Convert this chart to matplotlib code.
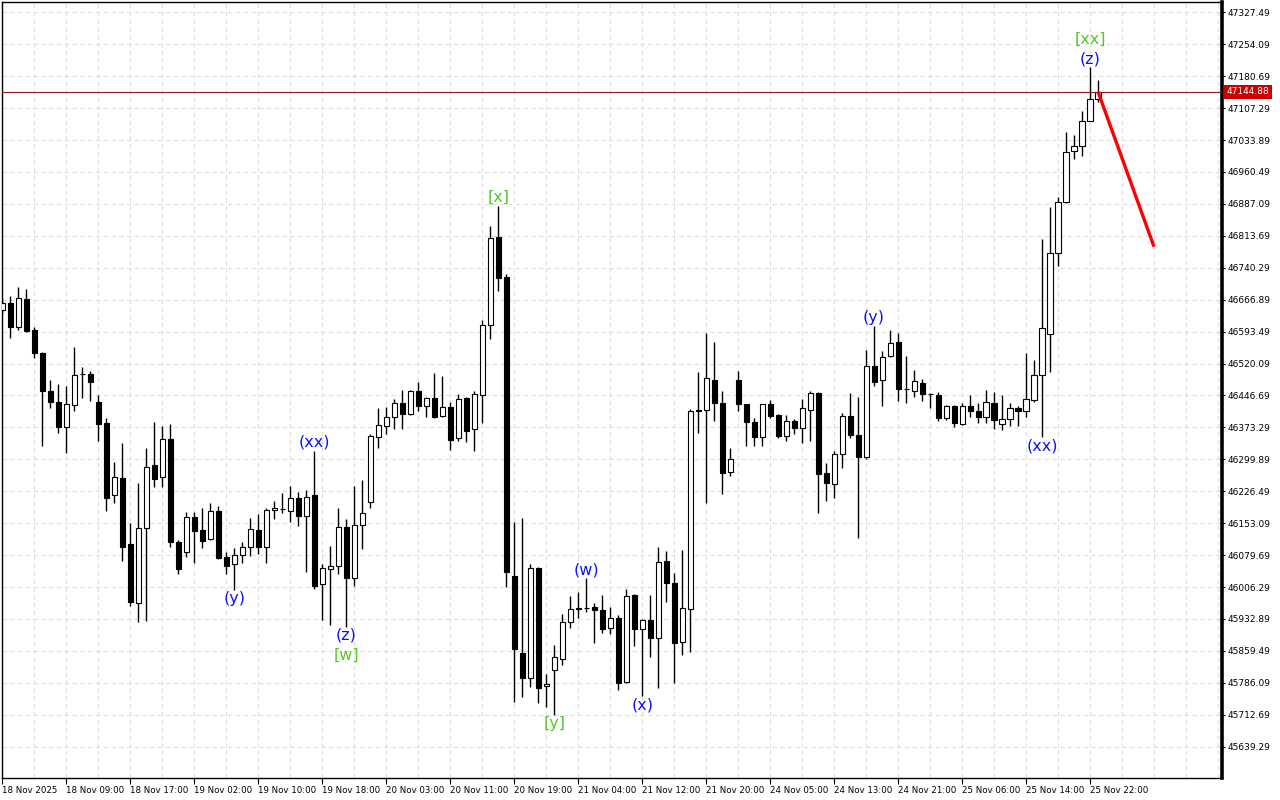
import numpy as np
import matplotlib.pyplot as plt
from matplotlib.ticker import FixedLocator, MultipleLocator
from matplotlib.transforms import blended_transform_factory

# hourly candles (price units)
opens = [46643.2, 46658.6, 46604.8, 46667.8, 46596.5, 46543.6, 46456.3, 46431.0, 46373.5, 46424.1,
         46495.4, 46495.4, 46431.0, 46382.7, 46217.2, 46256.3, 46104.6, 45968.9, 46141.3, 46286.2,
         46258.6, 46345.9, 46109.1, 46087.5, 46166.6, 46137.4, 46116.1, 46180.4, 46074.7, 46058.6,
         46079.3, 46099.1, 46137.4, 46099.1, 46182.7, 46185.0, 46180.4, 46210.3, 46170.3, 46217.9,
         46012.6, 46047.1, 46054.7, 46143.6, 46026.4, 46148.3, 46201.1, 46350.6, 46377.6, 46396.5,
         46428.7, 46404.8, 46456.3, 46423.2, 46440.2, 46398.8, 46419.5, 46348.2, 46440.2, 46368.9,
         46447.1, 46608.0, 46810.3, 46718.3, 46031.7, 45854.0, 45796.5, 46049.4, 45778.1, 45814.9,
         45840.2, 45925.3, 45955.8, 45958.8, 45959.7, 45953.5, 45911.5, 45934.4, 45788.7, 45988.0,
         45909.2, 45930.5, 45888.5, 46066.2, 46016.3, 45879.3, 45955.1, 46410.3, 46413.3, 46482.3,
         46428.7, 46270.1, 46482.3, 46426.4, 46385.0, 46351.9, 46426.4, 46401.8, 46352.8, 46388.0,
         46371.2, 46412.6, 46451.7, 46267.8, 46242.5, 46311.4, 46398.8, 46355.8, 46305.9, 46513.7,
         46482.3, 46536.7, 46568.9, 46460.9, 46456.3, 46474.7, 46449.4, 46447.1, 46394.2, 46422.5,
         46381.1, 46422.5, 46411.0, 46396.5, 46428.7, 46380.4, 46391.9, 46417.9, 46410.3, 46436.3,
         46493.1, 46588.0, 46773.5, 46892.1, 47008.0, 47019.5, 47077.0, 47127.5]
highs = [46670.8, 46675.4, 46695.4, 46690.8, 46604.8, 46546.6, 46482.3, 46472.4, 46468.5, 46557.4,
         46511.5, 46502.9, 46447.1, 46394.2, 46293.1, 46336.7, 46152.8, 46244.8, 46325.2, 46385.0,
         46376.5, 46380.4, 46114.4, 46178.1, 46178.1, 46187.3, 46198.8, 46191.9, 46087.5, 46095.4,
         46110.5, 46164.3, 46173.5, 46188.0, 46204.1, 46221.8, 46238.6, 46224.1, 46229.4, 46319.7,
         46058.6, 46100.7, 46187.3, 46162.7, 46238.6, 46252.4, 46357.4, 46419.0, 46419.5, 46437.9,
         46459.3, 46459.3, 46478.3, 46443.2, 46497.7, 46491.5, 46431.0, 46450.1, 46443.2, 46457.0,
         46620.2, 46836.3, 46882.2, 46725.2, 46156.5, 46165.7, 46059.3, 46052.4, 45806.4, 45873.1,
         45944.3, 45985.7, 45994.2, 46026.4, 45970.3, 45988.0, 45959.7, 45942.0, 46001.1, 45990.3,
         45932.8, 45988.0, 46099.1, 46089.2, 46037.9, 46091.5, 46414.9, 46500.6, 46591.0, 46570.3,
         46457.7, 46325.2, 46502.9, 46426.4, 46394.2, 46426.4, 46436.3, 46404.1, 46401.8, 46392.6,
         46438.6, 46457.7, 46455.4, 46290.8, 46319.0, 46405.7, 46451.7, 46442.5, 46551.2, 46606.4,
         46548.2, 46597.2, 46589.6, 46537.4, 46505.2, 46484.6, 46451.7, 46454.0, 46424.8, 46424.8,
         46430.1, 46447.8, 46430.1, 46459.3, 46454.0, 46447.8, 46430.1, 46422.5, 46545.0, 46528.2,
         46806.4, 46879.3, 46902.2, 47051.7, 47045.5, 47100.6, 47201.1, 47171.9]
lows = [46634.0, 46578.8, 46597.2, 46592.6, 46533.5, 46331.2, 46417.2, 46361.1, 46315.1, 46411.7,
        46440.2, 46434.7, 46342.7, 46181.8, 46200.2, 46066.9, 45963.4, 45925.3, 45928.9, 46237.0,
        46237.0, 46097.7, 46035.6, 46074.7, 46060.9, 46095.4, 46114.4, 46071.5, 46035.6, 45999.5,
        46060.9, 46077.7, 46081.6, 46062.3, 46162.0, 46175.8, 46156.5, 46147.3, 46041.6, 46001.1,
        45930.5, 45919.0, 46035.6, 45915.1, 46008.7, 46093.1, 46188.7, 46325.9, 46358.1, 46368.5,
        46370.3, 46401.8, 46411.0, 46397.9, 46394.2, 46398.3, 46321.3, 46342.0, 46340.4, 46319.7,
        46384.1, 46575.8, 46687.5, 46007.1, 45742.7, 45754.2, 45777.2, 45740.4, 45731.2, 45712.2,
        45827.1, 45912.8, 45935.8, 45948.2, 45878.4, 45900.0, 45897.7, 45769.6, 45786.4, 45870.8,
        45755.8, 45846.2, 45774.9, 45972.6, 45786.4, 45850.1, 45857.7, 46359.7, 46198.8, 46388.7,
        46219.5, 46262.3, 46411.0, 46331.2, 46330.5, 46330.5, 46394.2, 46348.2, 46342.7, 46357.4,
        46338.1, 46342.7, 46175.8, 46204.8, 46211.7, 46280.7, 46349.6, 46118.4, 46300.0, 46469.2,
        46422.5, 46536.2, 46434.7, 46430.1, 46443.9, 46434.7, 46418.6, 46388.0, 46390.3, 46373.5,
        46378.8, 46396.5, 46384.1, 46384.1, 46370.3, 46367.3, 46377.2, 46377.2, 46397.9, 46432.4,
        46350.5, 46501.3, 46745.0, 46889.0, 46989.6, 46997.9, 47076.5, 47120.6]
closes = [46659.3, 46603.4, 46670.1, 46595.6, 46543.6, 46457.7, 46431.0, 46374.9, 46426.4, 46493.1,
          46495.9, 46478.3, 46381.8, 46211.7, 46258.6, 46097.7, 45972.6, 46141.3, 46283.0, 46255.4,
          46345.9, 46110.5, 46047.1, 46166.6, 46135.8, 46112.8, 46180.4, 46073.8, 46055.4, 46079.3,
          46099.1, 46139.1, 46099.1, 46183.4, 46187.3, 46185.5, 46210.3, 46170.3, 46212.6, 46009.4,
          46049.4, 46054.7, 46143.6, 46026.4, 46148.3, 46175.8, 46353.5, 46378.8, 46397.2, 46428.7,
          46403.4, 46456.3, 46423.2, 46440.2, 46397.9, 46419.5, 46345.0, 46438.6, 46365.7, 46449.4,
          46608.0, 46808.0, 46717.4, 46040.2, 45863.2, 45796.5, 46049.4, 45773.5, 45782.7, 45846.2,
          45925.3, 45955.1, 45958.8, 45958.3, 45953.5, 45910.6, 45934.4, 45786.4, 45985.7, 45909.2,
          45930.5, 45888.5, 46063.9, 46014.9, 45878.4, 45957.4, 46411.0, 46414.4, 46486.2, 46428.7,
          46267.8, 46300.0, 46426.4, 46385.0, 46351.9, 46426.4, 46400.2, 46354.2, 46388.0, 46371.2,
          46417.2, 46451.7, 46265.5, 46244.8, 46311.4, 46398.8, 46355.8, 46304.5, 46513.7, 46478.3,
          46535.8, 46566.6, 46460.9, 46461.4, 46480.0, 46449.4, 46449.4, 46394.2, 46422.5, 46382.7,
          46422.5, 46410.3, 46396.5, 46431.0, 46390.3, 46391.9, 46417.2, 46410.3, 46438.6, 46493.1,
          46602.5, 46773.5, 46892.1, 47007.1, 47019.5, 47077.0, 47127.5, 47144.88]

last_price = 47144.88

time_labels = ["18 Nov 2025", "18 Nov 09:00", "18 Nov 17:00", "19 Nov 02:00", "19 Nov 10:00",
               "19 Nov 18:00", "20 Nov 03:00", "20 Nov 11:00", "20 Nov 19:00", "21 Nov 04:00",
               "21 Nov 12:00", "21 Nov 20:00", "24 Nov 05:00", "24 Nov 13:00", "24 Nov 21:00",
               "25 Nov 06:00", "25 Nov 14:00", "25 Nov 22:00"]

# projected move (red line)
forecast_bars = [137, 144]
forecast_prices = [47144.88, 46788.7]

# wave marks: bar, text, side, row, colour
wave_bars = [29, 39, 43, 43, 62, 73, 69, 80, 109, 130, 136, 136]
wave_texts = ["(y)", "(xx)", "(z)", "[w]", "[x]", "(w)", "[y]", "(x)", "(y)", "(xx)", "(z)", "[xx]"]
wave_sides = ["low", "high", "low", "low", "high", "high", "low", "low", "high", "low", "high", "high"]
wave_rows = [0, 0, 0, 1, 0, 0, 0, 0, 0, 0, 0, 1]
BLUE = "#1010ff"
GREEN = "#55c828"
wave_colors = [BLUE, BLUE, BLUE, GREEN, GREEN, BLUE, GREEN, BLUE, BLUE, BLUE, BLUE, GREEN]

o = np.array(opens); h = np.array(highs); l = np.array(lows); c = np.array(closes)
idx = np.arange(len(o))
up = c >= o

fig = plt.figure(figsize=(12.8, 8), dpi=100)
ax = fig.add_axes([2.3 / 1280, 22 / 800, (1222 - 2.3) / 1280, 776 / 800])
ax.set_xlim(0, 152.5)
ax.set_ylim(45567.3, 47351.2)

# grid
price_ticks = np.round(45639.29 + 73.4 * np.arange(24), 2)
ax.yaxis.set_major_locator(FixedLocator(price_ticks))
ax.xaxis.set_major_locator(FixedLocator(np.arange(len(time_labels)) * 8))
ax.xaxis.set_minor_locator(MultipleLocator(4))
ax.set_xticklabels(time_labels)
ax.grid(True, which='both', color='#dedede', linestyle=(0, (4, 3)), linewidth=0.8, zorder=0)
ax.set_axisbelow(True)

# candles
ax.vlines(idx, l, h, color='black', linewidth=1.0, zorder=2)
body_w = 0.64
ax.bar(idx[up], np.maximum(c[up] - o[up], 0.8), bottom=o[up], width=body_w,
       facecolor='white', edgecolor='black', linewidth=0.8, zorder=3)
ax.bar(idx[~up], np.maximum(o[~up] - c[~up], 0.8), bottom=c[~up], width=body_w,
       facecolor='black', edgecolor='black', linewidth=0.8, zorder=3)

# current price line and forecast
ax.axhline(last_price, color='#8c1a1a', linewidth=0.8, zorder=4)
ax.plot(forecast_bars, forecast_prices, color='#ff0000', linewidth=2.4,
        solid_capstyle='butt', zorder=5)

# wave labels
for b, t, s, r, col in zip(wave_bars, wave_texts, wave_sides, wave_rows, wave_colors):
    y = highs[b] if s == "high" else lows[b]
    d = 6.3 + 14.0 * r
    ax.annotate(t, (b, y), xytext=(0, d if s == "high" else -d), textcoords='offset points',
                ha='center', va='center', fontsize=11.5, color=col, zorder=6)

# axes styling
ax.yaxis.tick_right()
ax.yaxis.set_major_formatter(plt.FuncFormatter(lambda v, p: f"{v:.2f}"))
ax.tick_params(axis='y', direction='out', length=2.5, width=0.8, pad=1.5, labelsize=6.5)
ax.tick_params(axis='x', which='major', direction='out', length=4, width=0.8, pad=1.5, labelsize=6.2)
ax.tick_params(axis='x', which='minor', length=0)
for lbl in ax.get_xticklabels():
    lbl.set_ha('left')
for side in ['left', 'top', 'bottom']:
    ax.spines[side].set_linewidth(1.0)
    ax.spines[side].set_color('black')
ax.spines['right'].set_linewidth(2.6)
ax.spines['right'].set_color('black')

# price tag on the axis
tr = blended_transform_factory(ax.transAxes, ax.transData)
ax.text(1.0039, last_price, f"{last_price:.2f}", transform=tr, ha='left', va='center',
        fontsize=6.5, color='white', zorder=7, clip_on=False,
        bbox=dict(boxstyle='square,pad=0.25', facecolor='#cc0000', edgecolor='none'))

fig.savefig("out.png", dpi=100)
